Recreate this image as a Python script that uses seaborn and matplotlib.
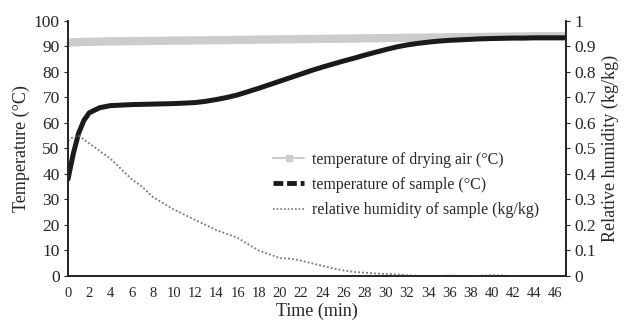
import numpy as np
import pandas as pd
import matplotlib
matplotlib.use("Agg")
import matplotlib.pyplot as plt
from matplotlib.lines import Line2D
import seaborn as sns

# time (min)
time = [0, 0.5, 1, 1.5, 2, 3, 4, 5, 6, 7, 8, 9, 10, 11, 12, 13, 14, 15, 16, 17,
        18, 19, 20, 21, 22, 23, 24, 25, 26, 27, 28, 29, 30, 31, 32, 33, 34, 35,
        36, 37, 38, 39, 40, 41, 42, 43, 44, 45, 46, 47]

# temperature of drying air (°C)
air_temp = [91.5, 91.6, 91.7, 91.8, 91.8, 91.9, 92.0, 92.0, 92.1, 92.1, 92.2, 92.2,
            92.3, 92.3, 92.4, 92.4, 92.5, 92.5, 92.6, 92.6, 92.7, 92.7, 92.8, 92.8,
            92.9, 92.9, 93.0, 93.0, 93.1, 93.1, 93.2, 93.2, 93.3, 93.3, 93.4, 93.4,
            93.5, 93.5, 93.6, 93.6, 93.7, 93.7, 93.8, 93.8, 93.9, 93.9, 94.0, 94.0,
            94.0, 94.0]

# temperature of sample (°C)
sample_temp = [38, 48, 56, 61, 64, 66, 66.8, 67.0, 67.2, 67.3, 67.4, 67.5, 67.6,
               67.8, 68.0, 68.5, 69.2, 70.0, 71.0, 72.3, 73.6, 75.0, 76.4, 77.8,
               79.2, 80.6, 81.9, 83.1, 84.3, 85.4, 86.6, 87.7, 88.8, 89.8, 90.6,
               91.2, 91.7, 92.1, 92.4, 92.6, 92.8, 93.0, 93.1, 93.2, 93.3, 93.3,
               93.4, 93.4, 93.4, 93.4]

# relative humidity of sample (kg/kg)
humidity = [0.53, 0.545, 0.55, 0.535, 0.52, 0.49, 0.46, 0.42, 0.38, 0.35, 0.31,
            0.285, 0.26, 0.24, 0.22, 0.20, 0.18, 0.165, 0.15, 0.125, 0.10, 0.085,
            0.07, 0.068, 0.06, 0.05, 0.04, 0.03, 0.022, 0.016, 0.013, 0.01, 0.008,
            0.006, 0.003, 0.001, 0.0, 0.0, 0.002, 0.0, 0.0, 0.001, 0.003, 0.002,
            0.0, 0.001, 0.0, 0.0, 0.0, 0.0]

legend_labels = ["temperature of drying air (°C)", "temperature of sample (°C)",
                 "relative humidity of sample (kg/kg)"]

df = pd.DataFrame({"time": time, "air": air_temp, "sample": sample_temp, "rh": humidity})

sns.set_style("ticks")
plt.rcParams["font.family"] = ["Liberation Serif", "DejaVu Serif"]

fig = plt.figure(figsize=(6.24, 3.2), dpi=100)
ax = fig.add_axes([0.109, 0.1375, 0.798, 0.797])
ax2 = ax.twinx()

sns.lineplot(data=df, x="time", y="air", ax=ax, color="#cccccc", linewidth=6,
             legend=False)
sns.lineplot(data=df, x="time", y="sample", ax=ax, color="#1a1a1a", linewidth=3.6,
             legend=False)
sns.lineplot(data=df, x="time", y="rh", ax=ax2, color="#777777", linewidth=1.3,
             linestyle=(0, (1, 1.2)), legend=False)

ax.set_xlim(0, 47)
ax.set_ylim(0, 100)
ax2.set_ylim(0, 1)
ax.set_xticks(range(0, 47, 2))
ax.set_yticks(range(0, 101, 10))
ax2.set_yticks(np.arange(0, 1.01, 0.1))
ax2.set_yticklabels(["0", "0.1", "0.2", "0.3", "0.4", "0.5", "0.6", "0.7", "0.8", "0.9", "1"])

ax.tick_params(axis="x", labelsize=10.5, length=0, pad=8)
ax.tick_params(axis="y", labelsize=12.5, length=3, color="#222222", pad=3)
ax2.tick_params(axis="y", labelsize=12.5, length=3, color="#222222", pad=3)

ax.set_xlabel("Time (min)", fontsize=13, labelpad=2)
ax.set_ylabel("Temperature (°C)", fontsize=13, labelpad=3)
ax2.set_ylabel("Relative humidity (kg/kg)", fontsize=13, labelpad=4)

for a in (ax, ax2):
    a.spines["top"].set_visible(False)
    for s in ("left", "right", "bottom"):
        a.spines[s].set_color("#222222")
        a.spines[s].set_linewidth(1.2)

handles = [
    Line2D([], [], color="#cccccc", linewidth=1.5, marker="s", markersize=4),
    Line2D([], [], color="#1a1a1a", linewidth=3.5, linestyle=(0, (2, 0.8))),
    Line2D([], [], color="#777777", linewidth=1.2, linestyle=(0, (1, 1.2))),
]
ax.legend(handles, legend_labels, frameon=False, fontsize=11.5, loc="center left",
          bbox_to_anchor=(0.383, 0.357), handlelength=1.95, labelspacing=0.58,
          handletextpad=0.5)

fig.savefig("out.png", dpi=100)
